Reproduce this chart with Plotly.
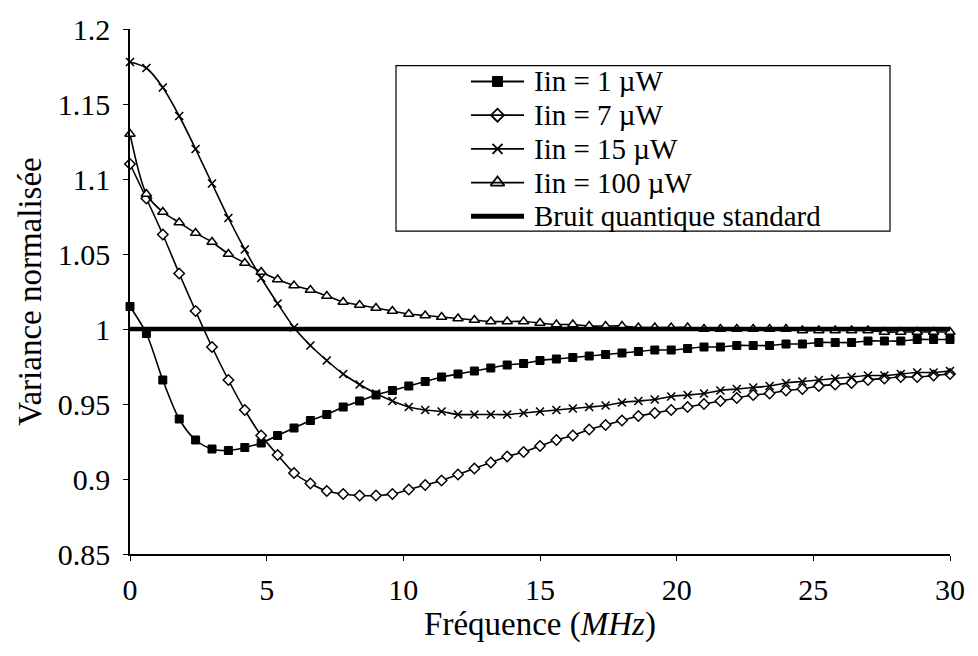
import plotly.graph_objects as go

# Frequency grid (MHz)
freq = [0.0, 0.6, 1.2, 1.8, 2.4, 3.0, 3.6, 4.2, 4.8, 5.4,
        6.0, 6.6, 7.2, 7.8, 8.4, 9.0, 9.6, 10.2, 10.8, 11.4,
        12.0, 12.6, 13.2, 13.8, 14.4, 15.0, 15.6, 16.2, 16.8, 17.4,
        18.0, 18.6, 19.2, 19.8, 20.4, 21.0, 21.6, 22.2, 22.8, 23.4,
        24.0, 24.6, 25.2, 25.8, 26.4, 27.0, 27.6, 28.2, 28.8, 29.4, 30.0]

# Normalised variance for each input power
var_1uw = [1.015, 0.997, 0.966, 0.940, 0.926, 0.920, 0.919, 0.921, 0.924, 0.929,
           0.934, 0.939, 0.943, 0.948, 0.952, 0.956, 0.959, 0.962, 0.965, 0.968,
           0.970, 0.972, 0.974, 0.976, 0.977, 0.979, 0.980, 0.981, 0.982, 0.983,
           0.984, 0.985, 0.986, 0.986, 0.987, 0.988, 0.988, 0.989, 0.989, 0.989,
           0.990, 0.990, 0.991, 0.991, 0.991, 0.992, 0.992, 0.992, 0.993, 0.993, 0.993]

var_7uw = [1.110, 1.087, 1.063, 1.037, 1.012, 0.988, 0.966, 0.946, 0.929, 0.916,
           0.904, 0.897, 0.892, 0.890, 0.889, 0.889, 0.890, 0.893, 0.896, 0.899,
           0.903, 0.907, 0.911, 0.915, 0.918, 0.922, 0.926, 0.929, 0.933, 0.936,
           0.939, 0.942, 0.944, 0.946, 0.948, 0.950, 0.952, 0.954, 0.956, 0.957,
           0.959, 0.960, 0.962, 0.963, 0.964, 0.966, 0.967, 0.968, 0.968, 0.969, 0.970]

var_15uw = [1.178, 1.174, 1.161, 1.142, 1.120, 1.097, 1.074, 1.053, 1.034, 1.017,
            1.001, 0.989, 0.979, 0.970, 0.963, 0.957, 0.952, 0.948, 0.946, 0.945,
            0.943, 0.943, 0.943, 0.943, 0.944, 0.945, 0.946, 0.947, 0.948, 0.949,
            0.951, 0.952, 0.953, 0.955, 0.956, 0.957, 0.959, 0.960, 0.961, 0.962,
            0.964, 0.965, 0.966, 0.967, 0.968, 0.969, 0.969, 0.970, 0.971, 0.971, 0.972]

var_100uw = [1.130, 1.090, 1.078, 1.071, 1.064, 1.058, 1.050, 1.044, 1.038, 1.033,
             1.029, 1.026, 1.022, 1.018, 1.016, 1.014, 1.012, 1.010, 1.009, 1.008,
             1.007, 1.006, 1.005, 1.005, 1.005, 1.004, 1.003, 1.003, 1.002, 1.002,
             1.002, 1.001, 1.001, 1.001, 1.001, 1.000, 1.000, 1.000, 1.000, 1.000,
             1.000, 0.999, 0.999, 0.999, 0.999, 0.999, 0.998, 0.998, 0.998, 0.998, 0.998]

# Standard quantum limit
sql_freq = [0, 30]
sql_level = [1.0, 1.0]

series_names = ["Iin = 1 µW", "Iin = 7 µW", "Iin = 15 µW", "Iin = 100 µW"]
sql_name = "Bruit quantique standard"

x_ticks = [0, 5, 10, 15, 20, 25, 30]
y_ticks = [0.85, 0.9, 0.95, 1.0, 1.05, 1.1, 1.15, 1.2]
y_tick_text = ["0.85", "0.9", "0.95", "1", "1.05", "1.1", "1.15", "1.2"]

FONT = "Liberation Serif"
BLACK = "#000000"

# Figure geometry (pixels)
W, H = 978, 656
ML, MR, MT, MB = 130, 28, 24, 102
PW, PH = W - ML - MR, H - MT - MB


def px_x(px):
    return (px - ML) / PW


def px_y(py):
    return (H - MB - py) / PH


markers = [
    dict(symbol="square", size=8, color=BLACK, line=dict(color=BLACK, width=1)),
    dict(symbol="diamond", size=8, color="white", line=dict(color=BLACK, width=1.5)),
    dict(symbol="x-thin", size=8, color=BLACK, line=dict(color=BLACK, width=1.6)),
    dict(symbol="triangle-up", size=9, color="white", line=dict(color=BLACK, width=1.5)),
]
key_markers = [
    dict(symbol="square", size=10, color=BLACK, line=dict(color=BLACK, width=1)),
    dict(symbol="diamond", size=10, color="white", line=dict(color=BLACK, width=1.8)),
    dict(symbol="x-thin", size=10, color=BLACK, line=dict(color=BLACK, width=1.8)),
    dict(symbol="triangle-up", size=12, color="white", line=dict(color=BLACK, width=1.8)),
]

fig = go.Figure()

for name, values, mk in zip(series_names, [var_1uw, var_7uw, var_15uw, var_100uw], markers):
    fig.add_trace(go.Scatter(
        x=freq, y=values, name=name, mode="lines+markers",
        line=dict(color=BLACK, width=1.6, shape="spline", smoothing=0.8),
        marker=mk, cliponaxis=False, showlegend=False,
    ))

fig.add_trace(go.Scatter(
    x=sql_freq, y=sql_level, name=sql_name, mode="lines",
    line=dict(color=BLACK, width=4.5), showlegend=False,
))

# ---- legend: framed box with key lines, key markers and labels ----
box_l, box_r, box_t, box_b = 396, 890, 61, 228
key_x0, key_x1, text_x = 471, 524, 532
row0, row_step = 77, 34

fig.add_shape(type="rect", xref="paper", yref="paper",
              x0=px_x(box_l), x1=px_x(box_r), y0=px_y(box_b), y1=px_y(box_t),
              line=dict(color=BLACK, width=1.2), fillcolor="white", layer="below")

labels = series_names + [sql_name]
for i, label in enumerate(labels):
    ry = px_y(row0 + i * row_step)
    fig.add_shape(type="line", xref="paper", yref="paper",
                  x0=px_x(key_x0), x1=px_x(key_x1), y0=ry, y1=ry,
                  line=dict(color=BLACK, width=5 if i == 4 else 1.8))
    fig.add_annotation(text=label, xref="paper", yref="paper",
                       x=px_x(text_x), y=ry, xanchor="left", yanchor="middle",
                       showarrow=False, font=dict(family=FONT, size=29, color=BLACK))
    if i < 4:
        fig.add_trace(go.Scatter(
            x=[px_x((key_x0 + key_x1) / 2)], y=[ry], mode="markers",
            marker=key_markers[i], xaxis="x2", yaxis="y2",
            showlegend=False, hoverinfo="skip", cliponaxis=False,
        ))

axis_common = dict(showgrid=False, zeroline=False, showline=True,
                   linecolor=BLACK, linewidth=1.5, ticks="outside",
                   ticklen=5, tickwidth=1.2, tickcolor=BLACK,
                   tickfont=dict(family=FONT, size=30, color=BLACK))

fig.update_layout(
    width=W, height=H,
    margin=dict(l=ML, r=MR, t=MT, b=MB),
    paper_bgcolor="white", plot_bgcolor="white",
    font=dict(family=FONT, size=30, color=BLACK),
    showlegend=False,
    xaxis=dict(range=[0, 30], tickvals=x_ticks, ticklabelstandoff=3,
               title=dict(text="Fréquence (<i>MHz</i>)", standoff=4,
                          font=dict(family=FONT, size=33)),
               **axis_common),
    yaxis=dict(range=[0.85, 1.2], tickvals=y_ticks, ticktext=y_tick_text,
               ticklabelstandoff=7,
               title=dict(text="Variance normalisée", standoff=6,
                          font=dict(family=FONT, size=33)),
               **axis_common),
    # frame-relative axes for the legend key markers
    xaxis2=dict(range=[0, 1], overlaying="x", visible=False, anchor="y2"),
    yaxis2=dict(range=[0, 1], overlaying="y", visible=False, anchor="x2"),
)

fig.write_html("out.html")
